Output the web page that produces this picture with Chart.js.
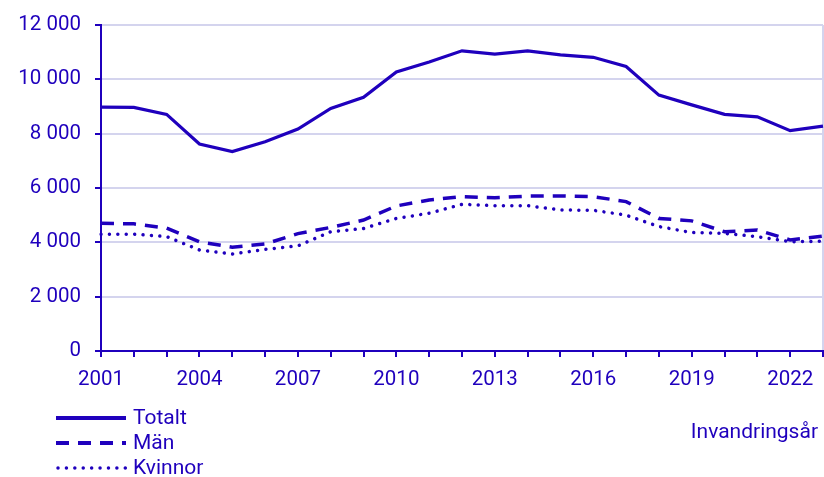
<!DOCTYPE html>
<html lang="sv">
<head>
<meta charset="utf-8">
<title>Invandringsår</title>
<script src="https://cdn.jsdelivr.net/npm/chart.js@4/dist/chart.umd.min.js"></script>
<style>
    html, body { margin: 0; padding: 0; background: #fff; }
    #chart { display: block; }
</style>
</head>
<body>
<canvas id="chart" width="824" height="477"></canvas>
<script>
// data
const years = ['2001','2002','2003','2004','2005','2006','2007','2008','2009','2010','2011','2012',
    '2013','2014','2015','2016','2017','2018','2019','2020','2021','2022','2023'];
const totalt = [8980, 8970, 8710, 7620, 7340, 7700, 8170, 8930, 9340, 10270, 10640, 11050,
    10930, 11050, 10900, 10810, 10470, 9420, 9060, 8710, 8620, 8110, 8280];
const man = [4700, 4680, 4520, 4020, 3820, 3940, 4320, 4550, 4820, 5340, 5560, 5680,
    5640, 5700, 5710, 5680, 5500, 4880, 4790, 4390, 4450, 4090, 4230];
const kvinnor = [4300, 4300, 4210, 3720, 3570, 3740, 3870, 4390, 4510, 4880, 5070, 5400,
    5350, 5350, 5190, 5180, 5000, 4580, 4360, 4330, 4210, 4020, 4040];
const seriesNames = ['Totalt', 'Män', 'Kvinnor'];
const xTitle = 'Invandringsår';

const blue = '#1f00bd';
const grid = '#d4d4ee';
const fontFamily = 'Roboto, "Noto Sans", sans-serif';

// legend + axeltitel ritas själv
const customLegend = {
    id: 'customLegend',
    afterDraw(chart) {
        const ctx = chart.ctx;
        ctx.save();
        ctx.font = '21px ' + fontFamily;
        ctx.fillStyle = blue;
        ctx.textBaseline = 'middle';
        chart.data.datasets.forEach((ds, i) => {
            const y = 418 + i * 25;
            ctx.beginPath();
            ctx.strokeStyle = blue;
            ctx.lineWidth = i === 2 ? 3.5 : 4;
            ctx.lineCap = ds.borderCapStyle || 'butt';
            ctx.setLineDash(ds.borderDash || []);
            ctx.moveTo(i === 2 ? 58 : 56, y);
            ctx.lineTo(126, y);
            ctx.stroke();
            ctx.setLineDash([]);
            ctx.textAlign = 'left';
            ctx.fillText(ds.label, 133, y + 1);
        });
        ctx.textAlign = 'right';
        ctx.fillText(xTitle, 818, 433);
        ctx.restore();
    }
};

const ctx = document.getElementById('chart').getContext('2d');
new Chart(ctx, {
    type: 'line',
    data: {
        labels: years,
        datasets: [
            { label: seriesNames[0], data: totalt, borderColor: blue, borderWidth: 3.2, pointRadius: 0, tension: 0 },
            { label: seriesNames[1], data: man, borderColor: blue, borderWidth: 3.5, borderDash: [13, 9], pointRadius: 0, tension: 0 },
            { label: seriesNames[2], data: kvinnor, borderColor: blue, borderWidth: 3.5, borderDash: [0.01, 8.4], borderCapStyle: 'round', pointRadius: 0, tension: 0 }
        ]
    },
    options: {
        responsive: false,
        animation: false,
        layout: { padding: { top: 25, right: 1, left: 0, bottom: 0 } },
        plugins: {
            legend: { display: false },
            tooltip: { enabled: false }
        },
        scales: {
            x: {
                offset: false,
                border: { color: blue, width: 2 },
                grid: {
                    color: c => c.index === years.length - 1 ? grid : 'rgba(0,0,0,0)',
                    tickColor: blue,
                    tickLength: 6,
                    tickWidth: 2,
                    lineWidth: 2
                },
                ticks: {
                    autoSkip: false,
                    maxRotation: 0,
                    color: blue,
                    padding: 11,
                    font: { family: fontFamily, size: 20.5 },
                    callback: (v, i) => i % 3 === 0 ? years[i] : ''
                },
                afterFit: s => { s.height = 126; s.paddingLeft = 0; s.paddingRight = 0; }
            },
            y: {
                min: 0,
                max: 12000,
                border: { color: blue, width: 2 },
                grid: {
                    color: grid,
                    tickColor: blue,
                    tickLength: 6,
                    lineWidth: 2
                },
                ticks: {
                    stepSize: 2000,
                    color: blue,
                    padding: 14,
                    font: { family: fontFamily, size: 20.5 },
                    callback: v => v.toLocaleString('en-US').replace(/,/g, ' ')
                },
                afterFit: s => { s.width = 101; s.paddingTop = 0; s.paddingBottom = 0; }
            }
        }
    },
    plugins: [customLegend]
});
</script>
</body>
</html>
